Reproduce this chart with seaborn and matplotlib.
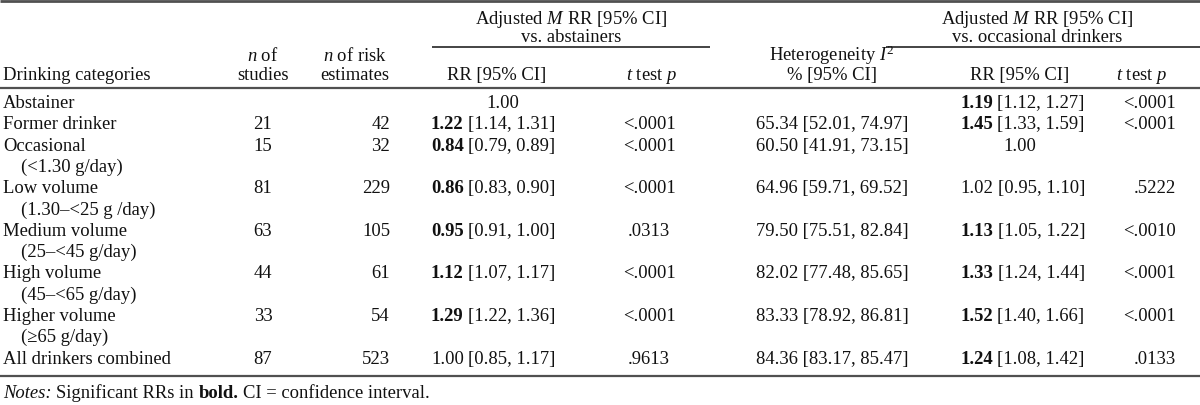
import matplotlib
matplotlib.use("Agg")
import matplotlib.pyplot as plt
import seaborn as sns

# table values
categories = ["Abstainer", "Former drinker", "Occasional", "Low volume",
              "Medium volume", "High volume", "Higher volume",
              "All drinkers combined"]
ranges = ["", "", "(<1.30 g/day)", "(1.30–<25 g /day)", "(25–<45 g/day)",
          "(45–<65 g/day)", "(≥65 g/day)", ""]
n_studies = [None, 21, 15, 81, 63, 44, 33, 87]
n_estimates = [None, 42, 32, 229, 105, 61, 54, 523]
rr_abst = [1.00, 1.22, 0.84, 0.86, 0.95, 1.12, 1.29, 1.00]
ci_abst = [None, (1.14, 1.31), (0.79, 0.89), (0.83, 0.90), (0.91, 1.00),
           (1.07, 1.17), (1.22, 1.36), (0.85, 1.17)]
sig_abst = [False, True, True, True, True, True, True, False]
p_abst = ["", "<.0001", "<.0001", "<.0001", ".0313", "<.0001", "<.0001", ".9613"]
i2 = [None, 65.34, 60.50, 64.96, 79.50, 82.02, 83.33, 84.36]
i2_ci = [None, (52.01, 74.97), (41.91, 73.15), (59.71, 69.52), (75.51, 82.84),
         (77.48, 85.65), (78.92, 86.81), (83.17, 85.47)]
rr_occ = [1.19, 1.45, 1.00, 1.02, 1.13, 1.33, 1.52, 1.24]
ci_occ = [(1.12, 1.27), (1.33, 1.59), None, (0.95, 1.10), (1.05, 1.22),
          (1.24, 1.44), (1.40, 1.66), (1.08, 1.42)]
sig_occ = [True, True, False, False, True, True, True, True]
p_occ = ["<.0001", "<.0001", "", ".5222", "<.0010", "<.0001", "<.0001", ".0133"]

sns.set_theme(style="white")
plt.rcParams["font.family"] = ["Liberation Serif", "DejaVu Serif"]
plt.rcParams["mathtext.fontset"] = "custom"
plt.rcParams["mathtext.rm"] = "Liberation Serif"
plt.rcParams["mathtext.it"] = "Liberation Serif:italic"
plt.rcParams["mathtext.bf"] = "Liberation Serif:bold"

FS = 13.4
INK = "#111111"
RULE = "#505050"

fig = plt.figure(figsize=(12, 4.06), dpi=100)
ax = fig.add_axes([0, 0, 1, 1])
ax.set_xlim(0, 1200)
ax.set_ylim(406, 0)
ax.axis("off")
renderer = fig.canvas.get_renderer()


def put(x, y, s, ha="left", **kw):
    return ax.text(x, y, s, fontsize=FS, color=INK, ha=ha, va="baseline", **kw)


def width(s, **kw):
    t = put(0, 0, s, **kw)
    w = t.get_window_extent(renderer).width
    t.remove()
    return w


SPACE = width("x x") - width("xx")


def chain(x, y, parts):
    # parts: (text, weight, style); trailing spaces become gaps
    for s, w, st in parts:
        core = s.rstrip(" ")
        gap = (len(s) - len(core)) * SPACE
        put(x, y, core, fontweight=w, fontstyle=st)
        x += width(core, fontweight=w, fontstyle=st) + gap


def rr_cell(x_left, x_mid, y, rr, ci, sig):
    if ci is None:
        put(x_mid, y, f"{rr:.2f}", ha="center")
    else:
        chain(x_left, y, [(f"{rr:.2f} ", "bold" if sig else "normal", "normal"),
                          (f"[{ci[0]:.2f}, {ci[1]:.2f}]", "normal", "normal")])


# rules
ax.hlines(1.5, 0, 1200, color=RULE, lw=2)
ax.hlines(89, 0, 1200, color=RULE, lw=1.6)
ax.hlines(48, 432, 710, color=INK, lw=1.1)
ax.hlines(48, 886, 1200, color=INK, lw=1.1)
ax.hlines(377, 0, 1200, color=RULE, lw=1.6)

# header
put(571, 24, "Adjusted $M$ RR [95% CI]", ha="center")
put(571, 42, "vs. abstainers", ha="center")
put(1037, 24, "Adjusted $M$ RR [95% CI]", ha="center")
put(1037, 42, "vs. occasional drinkers", ha="center")
put(263, 61, "$n$ of", ha="center")
put(263, 80, "studies", ha="center")
put(355, 61, "$n$ of risk", ha="center")
put(355, 80, "estimates", ha="center")
put(3, 80, "Drinking categories")
put(497, 80, "RR [95% CI]", ha="center")
put(652, 80, "$t$ test $p$", ha="center")
put(832, 61, "Heterogeneity $I^2$", ha="center")
put(832, 80, "% [95% CI]", ha="center")
put(1020, 80, "RR [95% CI]", ha="center")
put(1142, 80, "$t$ test $p$", ha="center")

# body
y0, step = 108, 21.3
row = 0
for i, cat in enumerate(categories):
    y = y0 + row * step
    put(3, y, cat)
    if n_studies[i] is not None:
        put(263, y, str(n_studies[i]), ha="center")
        put(390, y, str(n_estimates[i]), ha="right")
    rr_cell(431, 503, y, rr_abst[i], ci_abst[i], sig_abst[i])
    put(649, y, p_abst[i], ha="center")
    if i2[i] is not None:
        put(832, y, f"{i2[i]:.2f} [{i2_ci[i][0]:.2f}, {i2_ci[i][1]:.2f}]", ha="center")
    rr_cell(960, 1020, y, rr_occ[i], ci_occ[i], sig_occ[i])
    put(1176, y, p_occ[i], ha="right")
    row += 1
    if ranges[i]:
        put(21, y0 + row * step, ranges[i])
        row += 1

chain(3, 398, [("Notes: ", "normal", "italic"),
               ("Significant RRs in ", "normal", "normal"),
               ("bold. ", "bold", "normal"),
               ("CI = confidence interval.", "normal", "normal")])

fig.savefig("out.png", dpi=100)
